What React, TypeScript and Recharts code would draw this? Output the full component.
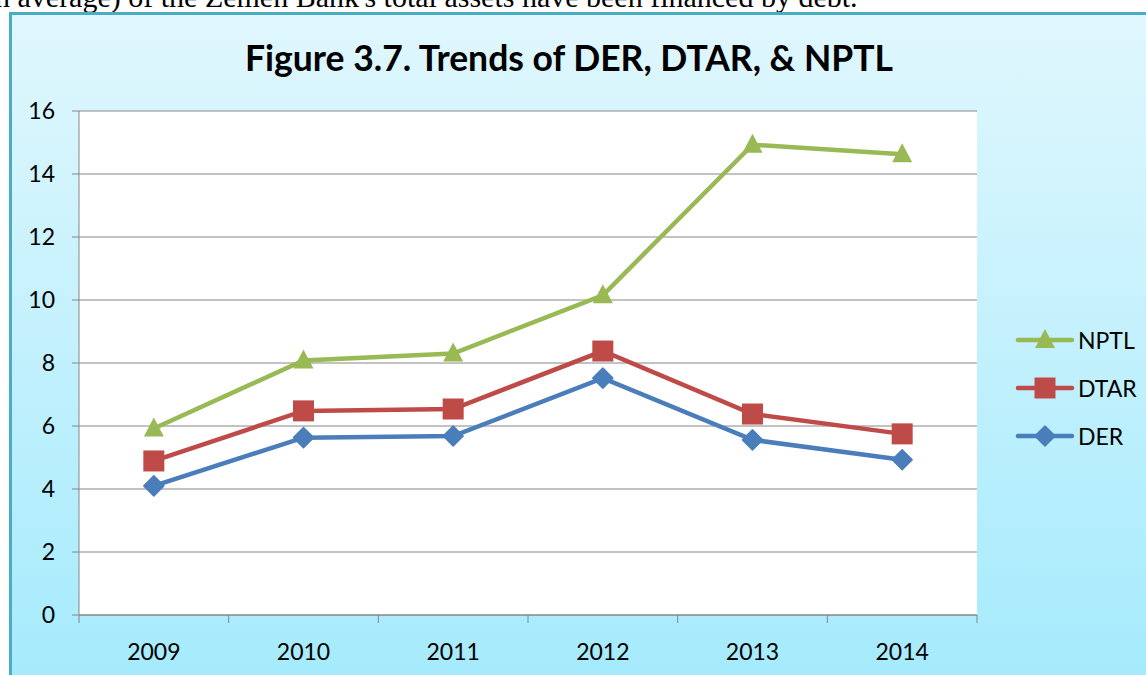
import React from "react";
import { CartesianGrid, Line, LineChart, XAxis, YAxis } from "recharts";

const years = ["2009", "2010", "2011", "2012", "2013", "2014"];
const derValues = [4.1, 5.63, 5.68, 7.52, 5.56, 4.93];
const dtarValues = [4.89, 6.48, 6.54, 8.38, 6.38, 5.75];
const nptlValues = [5.92, 8.08, 8.3, 10.15, 14.93, 14.63];
const yTicks = [0, 2, 4, 6, 8, 10, 12, 14, 16];

const series = [
  { key: "DER", color: "#4A7EBB", marker: "diamond" },
  { key: "DTAR", color: "#BE4B48", marker: "square" },
  { key: "NPTL", color: "#98B954", marker: "triangle" },
];

const data = years.map((year, i) => ({
  x: i + 0.5,
  year,
  DER: derValues[i],
  DTAR: dtarValues[i],
  NPTL: nptlValues[i],
}));

// tick values: integers are category boundaries (tick marks), halves are category centres (labels)
const xTicks = Array.from({ length: years.length * 2 + 1 }, (_, i) => i / 2);

const font = "Lato, 'Open Sans', sans-serif";

function Marker({ cx, cy, color, type }: { cx: number; cy: number; color: string; type: string }) {
  if (cx == null || cy == null) return null;
  if (type === "triangle") {
    return <polygon points={`${cx},${cy - 11} ${cx - 10},${cy + 8} ${cx + 10},${cy + 8}`} fill={color} />;
  }
  if (type === "square") {
    return <rect x={cx - 10.5} y={cy - 10.5} width={21} height={21} fill={color} />;
  }
  return <polygon points={`${cx},${cy - 10} ${cx + 10},${cy} ${cx},${cy + 10} ${cx - 10},${cy}`} fill={color} stroke={color} strokeWidth={1.5} strokeLinejoin="round" />;
}

function XTick(props: any) {
  const { x, y, payload } = props;
  const v = payload.value as number;
  if (Number.isInteger(v)) {
    return <line x1={x} x2={x} y1={y - 8} y2={y} stroke="#868686" strokeWidth={1} />;
  }
  return (
    <text x={x} y={y + 37} textAnchor="middle" fontFamily={font} fontSize={23} fill="#000">
      {years[Math.floor(v)]}
    </text>
  );
}

function LegendBox() {
  return (
    <div style={{ position: "absolute", left: 1015, top: 316, fontFamily: font, fontSize: 23, color: "#000" }}>
      {[...series].reverse().map((s) => (
        <div key={s.key} style={{ display: "flex", alignItems: "center", height: 48 }}>
          <svg width={60} height={24} style={{ marginRight: 3 }}>
            <line x1={3} x2={57} y1={12} y2={12} stroke={s.color} strokeWidth={4.5} strokeLinecap="round" />
            <Marker cx={30} cy={12} color={s.color} type={s.marker} />
          </svg>
          <span>{s.key}</span>
        </div>
      ))}
    </div>
  );
}

export default function App() {
  return (
    <div style={{ position: "absolute", left: 0, top: 0, width: 1146, height: 675, overflow: "hidden", background: "#fff" }}>
      <div
        style={{
          position: "absolute",
          left: -5,
          top: -18,
          whiteSpace: "nowrap",
          fontFamily: "'Liberation Serif', serif",
          fontSize: 30,
          lineHeight: "30px",
          color: "#000",
        }}
      >
        n average) of the Zemen Bank's total assets have been financed by debt.
      </div>
      <div
        style={{
          position: "absolute",
          left: 9,
          top: 12,
          width: 1160,
          height: 700,
          border: "3px solid #4BACC6",
          background: "linear-gradient(#E0F7FD, #A2EAFD)",
        }}
      />
      <div
        style={{
          position: "absolute",
          left: 10,
          width: 1118,
          top: 36,
          textAlign: "center",
          fontFamily: font,
          fontWeight: 700,
          fontSize: 35.5,
          lineHeight: "44px",
          color: "#000",
        }}
      >
        Figure 3.7. Trends of DER, DTAR, &amp; NPTL
      </div>
      <div style={{ position: "absolute", left: 0, top: 0 }}>
        <LineChart width={1146} height={675} data={data} margin={{ top: 111, right: 169, bottom: 0, left: 0 }}>
          <CartesianGrid vertical={false} stroke="#868686" fill="#fff" />
          <XAxis
            dataKey="x"
            type="number"
            domain={[0, 6]}
            ticks={xTicks}
            interval={0}
            tickSize={8}
            tickMargin={0}
            tickLine={false}
            tick={<XTick />}
            axisLine={{ stroke: "#868686" }}
            height={60}
          />
          <YAxis
            domain={[0, 16]}
            ticks={yTicks}
            interval={0}
            width={79}
            tickSize={7}
            tickMargin={17}
            tickLine={{ stroke: "#868686" }}
            axisLine={{ stroke: "#868686" }}
            tick={{ fontFamily: font, fontSize: 23, fill: "#000" }}
          />
          {series.map((s) => (
            <Line
              key={s.key}
              dataKey={s.key}
              stroke={s.color}
              strokeWidth={4.5}
              isAnimationActive={false}
              dot={(p: any) => <Marker key={`${s.key}-${p.index}`} cx={p.cx} cy={p.cy} color={s.color} type={s.marker} />}
              activeDot={false}
            />
          ))}
        </LineChart>
      </div>
      <LegendBox />
    </div>
  );
}
